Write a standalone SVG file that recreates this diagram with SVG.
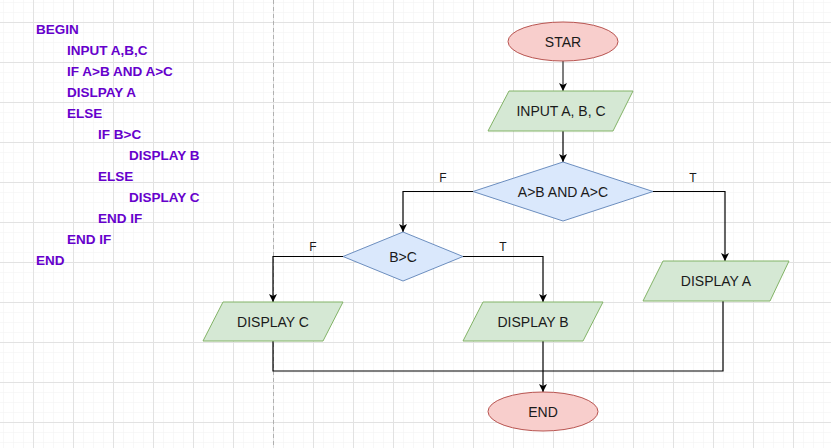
<svg xmlns="http://www.w3.org/2000/svg" width="831" height="448" viewBox="0 0 831 448">
<style>
.code{font-family:"Liberation Sans",Arial,sans-serif;font-size:13.5px;font-weight:bold;fill:#6600CC}
.lbl{font-family:"Liberation Sans",Arial,sans-serif;font-size:14px;fill:#1a1a1a;text-anchor:middle;dominant-baseline:central}
.el{font-family:"Liberation Sans",Arial,sans-serif;font-size:12px;fill:#1a1a1a;text-anchor:middle}
.term{fill:#f8cecc;stroke:#b85450;stroke-width:1}
.io{fill:#d5e8d4;stroke:#82b366;stroke-width:1}
.dec{fill:#dae8fc;stroke:#6c8ebf;stroke-width:1}
.edge{fill:none;stroke:#000;stroke-width:1.2;marker-end:url(#arr)}
.line{fill:none;stroke:#000;stroke-width:1.2}
</style>
<defs>
<marker id="arr" markerUnits="userSpaceOnUse" markerWidth="10" markerHeight="10" refX="8" refY="4" orient="auto">
<path d="M0,0 L8,4 L0,8 L2,4 z" fill="#000"/>
</marker>
<pattern id="minor" patternUnits="userSpaceOnUse" width="10" height="10" x="3" y="2">
<path d="M0,0 H10 M0,0 V10" stroke="#f1f1f1" stroke-width="1" fill="none"/>
</pattern>
<pattern id="major" patternUnits="userSpaceOnUse" width="40" height="40" x="33" y="22">
<path d="M0,0.5 H40 M0.5,0 V40" stroke="#e2e2e2" stroke-width="1" fill="none"/>
</pattern>
</defs>
<rect width="831" height="448" fill="#fff"/>
<rect width="831" height="448" fill="url(#minor)"/>
<rect width="831" height="448" fill="url(#major)"/>
<line x1="273.5" y1="0" x2="273.5" y2="448" stroke="#b0b0b0" stroke-width="1" stroke-dasharray="4 3"/>

<g id="pseudocode">
<text class="code" x="36" y="34">BEGIN</text>
<text class="code" x="67" y="55">INPUT A,B,C</text>
<text class="code" x="67" y="76">IF A&gt;B AND A&gt;C</text>
<text class="code" x="67" y="97">DISLPAY A</text>
<text class="code" x="67" y="118">ELSE</text>
<text class="code" x="98" y="139">IF B&gt;C</text>
<text class="code" x="129" y="160">DISPLAY B</text>
<text class="code" x="98" y="181">ELSE</text>
<text class="code" x="129" y="202">DISPLAY C</text>
<text class="code" x="98" y="223">END IF</text>
<text class="code" x="67" y="244">END IF</text>
<text class="code" x="36" y="265">END</text>
</g>

<g id="connectors">
<path d="M563,61 V91" fill="none" stroke="#555" stroke-width="1.5" marker-end="url(#arr)"/>
<path class="edge" d="M563,131 V162"/>
<path class="edge" d="M473,191.5 H403 V232"/>
<path class="edge" d="M653,191.5 H725 V261"/>
<path class="edge" d="M343,256.5 H273 V302"/>
<path class="edge" d="M463,256.5 H543 V302"/>
<path class="line" d="M273,341 V371 H723 V301"/>
<path class="edge" d="M543,341 V392"/>
<text class="el" x="443" y="182">F</text>
<text class="el" x="693" y="182">T</text>
<text class="el" x="313" y="251">F</text>
<text class="el" x="503" y="251">T</text>
</g>

<g id="start">
<ellipse class="term" cx="563" cy="41.5" rx="55" ry="19.5"/>
<text class="lbl" x="563" y="41.5">STAR</text>
</g>
<g id="input">
<polygon class="io" points="509,91 633,91 613,131 488,131"/>
<text class="lbl" x="561" y="111">INPUT A, B, C</text>
</g>
<g id="cond1">
<polygon class="dec" points="563,162 653,191.5 563,221 473,191.5"/>
<text class="lbl" x="563" y="191.5">A&gt;B AND A&gt;C</text>
</g>
<g id="cond2">
<polygon class="dec" points="403,232 463,256.5 403,281 343,256.5"/>
<text class="lbl" x="403" y="256.5">B&gt;C</text>
</g>
<g id="displayA">
<polygon class="io" points="663,261 789,261 770,301 643,301"/>
<text class="lbl" x="716" y="281">DISPLAY A</text>
</g>
<g id="displayB">
<polygon class="io" points="483,302 603,302 583,341 463,341"/>
<text class="lbl" x="533" y="321.5">DISPLAY B</text>
</g>
<g id="displayC">
<polygon class="io" points="223,302 343,302 323,341 203,341"/>
<text class="lbl" x="273" y="321.5">DISPLAY C</text>
</g>
<g id="end">
<ellipse class="term" cx="543" cy="411.5" rx="55" ry="19.5"/>
<text class="lbl" x="543" y="411.5">END</text>
</g>
</svg>
